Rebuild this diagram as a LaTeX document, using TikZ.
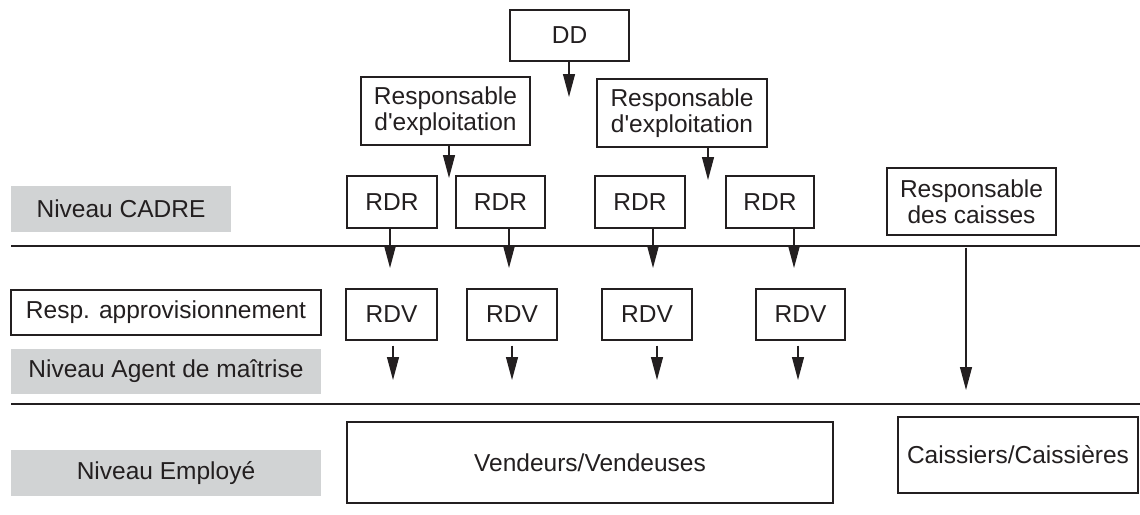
\documentclass[tikz,border=0pt]{standalone}
\usepackage{fontspec}
\setmainfont[Ligatures=TeXOff]{Liberation Sans}
\usetikzlibrary{arrows.meta}
\definecolor{ink}{HTML}{231F20}
\definecolor{band}{HTML}{D1D3D4}
\tikzset{
  box/.style={draw=ink, line width=1.2pt, fill=white, inner sep=0pt, align=center, text=ink,
    font=\fontsize{24.5}{26}\selectfont},
  level/.style={fill=band, inner sep=0pt, align=center, text=ink, font=\fontsize{24.5}{26}\selectfont},
  arr/.style={draw=ink, line width=1.2pt, -{Triangle[length=23pt,width=12pt]}},
  sep/.style={draw=ink, line width=1.2pt}
}
\begin{document}
\begin{tikzpicture}[x=1pt,y=-1pt]
\useasboundingbox (0,0) rectangle (1140,514);
% separator lines
\coordinate (l1a) at (11,246); \coordinate (l1b) at (1140,246);
\coordinate (l2a) at (11,404); \coordinate (l2b) at (1140,404);
\draw[sep] (l1a) -- (l1b);
\draw[sep] (l2a) -- (l2b);
% left level bands
\node[level, minimum width=220pt, minimum height=46pt] (cadre) at (121,209) {Niveau CADRE};
\node[box, minimum width=310pt, minimum height=45pt] (appro) at (166,312.5) {Resp. approvisionnement};
\node[level, minimum width=310pt, minimum height=45pt] (agent) at (166,371.5) {Niveau Agent de maîtrise};
\node[level, minimum width=310pt, minimum height=46pt] (emp) at (166,473) {Niveau Employé};
% top
\node[box, minimum width=119pt, minimum height=51pt] (dd) at (569.5,35.5) {DD};
\node[box, minimum width=169pt, minimum height=68pt] (re1) at (445.5,111) {Responsable\\d'exploitation};
\node[box, minimum width=170pt, minimum height=68pt] (re2) at (682,113) {Responsable\\d'exploitation};
% RDR
\node[box, minimum width=90pt, minimum height=52pt] (rdr1) at (392,202) {RDR};
\node[box, minimum width=89pt, minimum height=52pt] (rdr2) at (500.5,202) {RDR};
\node[box, minimum width=90pt, minimum height=52pt] (rdr3) at (640,202) {RDR};
\node[box, minimum width=88pt, minimum height=52pt] (rdr4) at (770,202) {RDR};
\node[box, minimum width=169pt, minimum height=67pt] (rc) at (971.5,201.5) {Responsable\\des caisses};
% RDV
\node[box, minimum width=91pt, minimum height=51pt] (rdv1) at (391.5,314.5) {RDV};
\node[box, minimum width=90pt, minimum height=51pt] (rdv2) at (512,314.5) {RDV};
\node[box, minimum width=90pt, minimum height=51pt] (rdv3) at (647,314.5) {RDV};
\node[box, minimum width=89pt, minimum height=51pt] (rdv4) at (800.5,314.5) {RDV};
% bottom
\node[box, minimum width=486pt, minimum height=81pt] (vend) at (590,462.5) {Vendeurs/Vendeuses};
\node[box, minimum width=240pt, minimum height=76pt] (cais) at (1018,455) {Caissiers/Caissières};
% arrow tips
\coordinate (tdd) at (569,97);
\coordinate (tre1) at (449,178);
\coordinate (tre2) at (708,180);
\coordinate (tr1) at (390,268);
\coordinate (tr2) at (509,268);
\coordinate (tr3) at (653,268);
\coordinate (tr4) at (794,268);
\coordinate (tv1) at (393,380);
\coordinate (tv2) at (512,380);
\coordinate (tv3) at (657,380);
\coordinate (tv4) at (798,380);
\coordinate (trc) at (966,390);
% arrows
\draw[arr] (tdd |- dd.south) -- (tdd);
\draw[arr] (tre1 |- re1.south) -- (tre1);
\draw[arr] (tre2 |- re2.south) -- (tre2);
\draw[arr] (tr1 |- rdr1.south) -- (tr1);
\draw[arr] (tr2 |- rdr2.south) -- (tr2);
\draw[arr] (tr3 |- rdr3.south) -- (tr3);
\draw[arr] (tr4 |- rdr4.south) -- (tr4);
\draw[arr, shorten <=5pt] (tv1 |- rdv1.south) -- (tv1);
\draw[arr, shorten <=5pt] (tv2 |- rdv2.south) -- (tv2);
\draw[arr, shorten <=5pt] (tv3 |- rdv3.south) -- (tv3);
\draw[arr, shorten <=5pt] (tv4 |- rdv4.south) -- (tv4);
\draw[arr, shorten <=12pt] (trc |- rc.south) -- (trc);
\end{tikzpicture}
\end{document}
